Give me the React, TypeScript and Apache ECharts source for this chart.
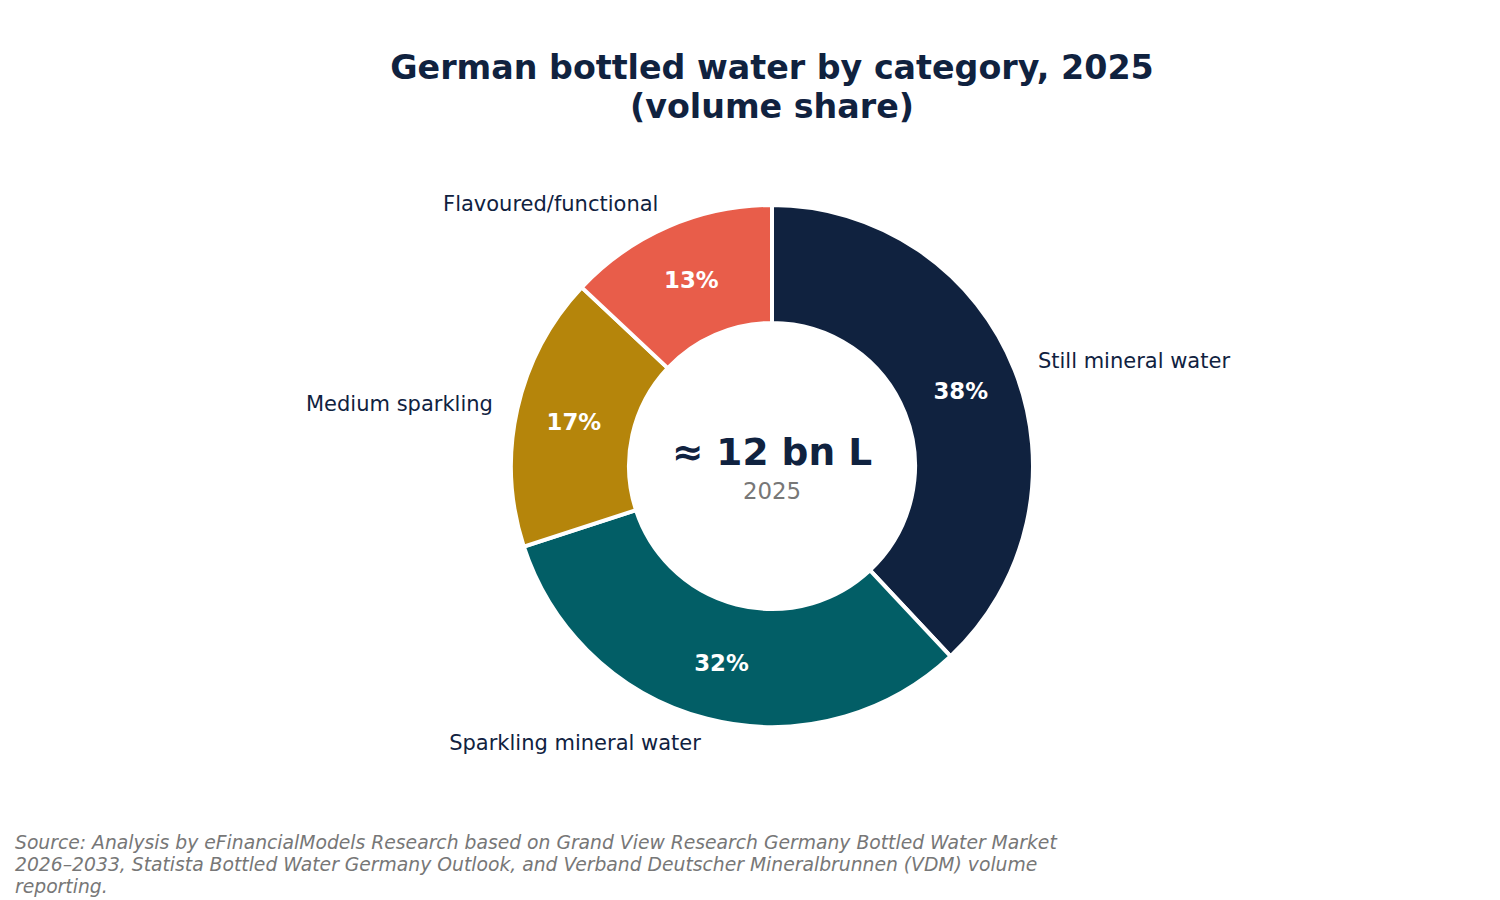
import React, { useEffect, useRef } from "react";
import * as echarts from "echarts";

const categories = [
  "Still mineral water",
  "Sparkling mineral water",
  "Medium sparkling",
  "Flavoured/functional",
];
const shares = [38, 32, 17, 13];
const sliceColors = ["#10223F", "#025E66", "#B5850B", "#E85D4A"];
const titleText = "German bottled water by category, 2025\n(volume share)";
const centerValue = "≈ 12 bn L";
const centerYear = "2025";
const sourceText =
  "Source: Analysis by eFinancialModels Research based on Grand View Research Germany Bottled Water Market\n" +
  "2026–2033, Statista Bottled Water Germany Outlook, and Verband Deutscher Mineralbrunnen (VDM) volume\n" +
  "reporting.";

const NAVY = "#10223F";
const FONT = "DejaVu Sans";

export default function App() {
  const ref = useRef<HTMLDivElement>(null);
  useEffect(() => {
    document.body.style.margin = "0";
    if (!ref.current) return;
    const chart = echarts.init(ref.current, undefined, { renderer: "svg" });
    const data = categories.map((name, i) => ({
      name,
      value: shares[i],
      itemStyle: { color: sliceColors[i] },
    }));
    const labelData = categories.map((name, i) => ({
      name,
      value: shares[i],
      itemStyle: { color: "rgba(0,0,0,0)", borderWidth: 0 },
    }));
    const cx = 772;
    const cy = 466;
    chart.setOption({
      animation: false,
      series: [
        {
          type: "pie",
          center: [cx, cy],
          radius: [143, 261],
          startAngle: 90,
          clockwise: true,
          avoidLabelOverlap: false,
          itemStyle: { borderColor: "#ffffff", borderWidth: 4 },
          emphasis: { disabled: true },
          data,
          label: {
            show: true,
            position: "outside",
            formatter: "{b}",
            fontFamily: FONT,
            fontSize: 21,
            color: NAVY,
            distanceToLabelLine: 0,
            alignTo: "none",
          },
          labelLine: { show: false, length: 25, length2: 0 },
        },
        {
          type: "pie",
          center: [cx, cy],
          radius: [139, 261],
          startAngle: 90,
          clockwise: true,
          avoidLabelOverlap: false,
          silent: true,
          emphasis: { disabled: true },
          data: labelData,
          label: {
            show: true,
            position: "inside",
            formatter: (p: any) => `${Math.round(p.percent)}%`,
            fontFamily: FONT,
            fontSize: 22.8,
            fontWeight: "bold",
            color: "#ffffff",
          },
          labelLine: { show: false },
        },
      ],
      graphic: [
        {
          type: "text",
          x: cx,
          y: 48,
          style: {
            text: titleText,
            fontFamily: FONT,
            fontSize: 33.3,
            fontWeight: "bold",
            lineHeight: 39,
            fill: NAVY,
            align: "center",
            verticalAlign: "top",
          },
        },
        {
          type: "text",
          x: cx,
          y: 452,
          style: {
            text: centerValue,
            fontFamily: FONT,
            fontSize: 37.5,
            fontWeight: "bold",
            fill: NAVY,
            align: "center",
            verticalAlign: "middle",
          },
        },
        {
          type: "text",
          x: cx,
          y: 491,
          style: {
            text: centerYear,
            fontFamily: FONT,
            fontSize: 22.9,
            fill: "#777777",
            align: "center",
            verticalAlign: "middle",
          },
        },
        {
          type: "text",
          x: 15,
          y: 831,
          style: {
            text: sourceText,
            fontFamily: FONT,
            fontSize: 18.75,
            fontStyle: "italic",
            lineHeight: 22,
            fill: "#777777",
            align: "left",
            verticalAlign: "top",
          },
        },
      ],
    });
    return () => chart.dispose();
  }, []);
  return <div ref={ref} style={{ width: 1500, height: 900 }} />;
}
